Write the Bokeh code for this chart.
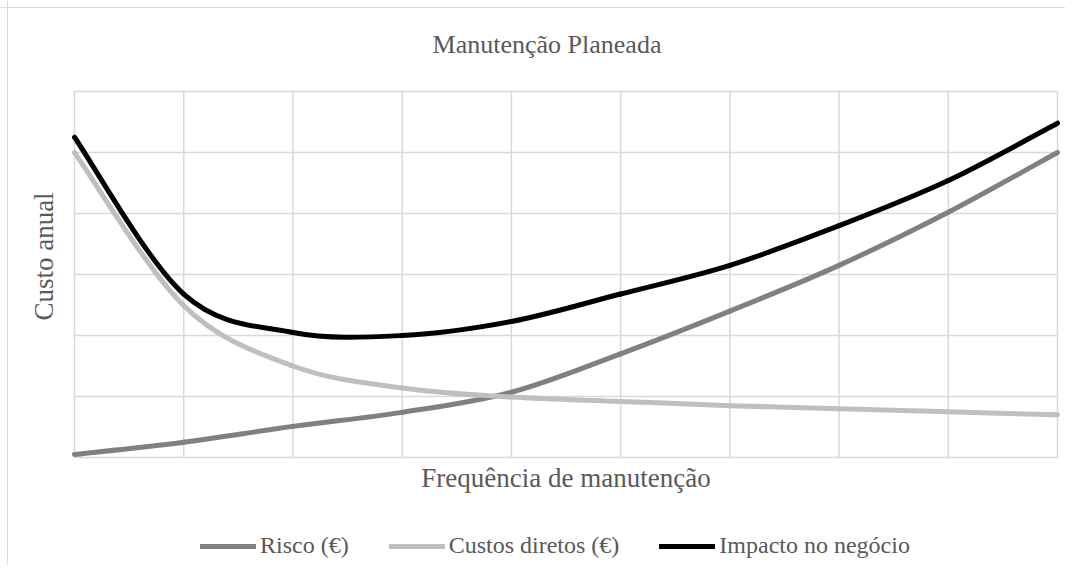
import math
from bokeh.plotting import figure
from bokeh.models import Range1d, Label, Legend, LegendItem, ColumnDataSource, Span
from bokeh.embed import file_html
from bokeh.resources import INLINE

# ---- data ----
x_vals = [0, 1, 2, 3, 4, 5, 6, 7, 8, 9]
y_ticks = [0, 1, 2, 3, 4, 5, 6]
risco = [0.05, 0.25, 0.51, 0.74, 1.07, 1.70, 2.40, 3.15, 4.02, 5.00]
custos = [5.00, 2.49, 1.50, 1.14, 0.99, 0.92, 0.85, 0.80, 0.75, 0.70]
impacto = [5.25, 2.68, 2.05, 2.00, 2.23, 2.68, 3.15, 3.80, 4.54, 5.48]
series_names = ["Risco (€)", "Custos diretos (€)", "Impacto no negócio"]
series_colors = ["#808080", "#bfbfbf", "#000000"]
title_text = "Manutenção Planeada"
x_label = "Frequência de manutenção"
y_label = "Custo anual"

FONT = "Liberation Serif"
TXT = "#595959"
GRID = "#d9d9d9"

# ---- layout (pixels) ----
W, H = 1065, 565
PL, PR, PT, PB = 74, 1057, 91, 457          # plot-area edges on the canvas
sx = (PR - PL) / (x_vals[-1] - x_vals[0])    # px per x unit
sy = (PB - PT) / (y_ticks[-1] - y_ticks[0])  # px per y unit
x0 = x_vals[0] - PL / sx
y0 = y_ticks[0] - (H - PB) / sy

p = figure(width=W, height=H, output_backend="svg", toolbar_location=None,
           x_range=Range1d(x0, x0 + W / sx), y_range=Range1d(y0, y0 + H / sy),
           min_border=0)
p.outline_line_color = None
p.xaxis.visible = False
p.yaxis.visible = False
p.xgrid.visible = False
p.ygrid.visible = False

# chart-area border (left / top edges)
p.add_layout(Span(location=x0 + 7 / sx, dimension="height", line_color=GRID, line_width=1))
p.add_layout(Span(location=y0 + (H - 7) / sy, dimension="width", line_color=GRID, line_width=1))

# gridlines at the category / value ticks
p.segment(x0=x_vals, x1=x_vals, y0=[y_ticks[0]] * len(x_vals), y1=[y_ticks[-1]] * len(x_vals),
          line_color=GRID, line_width=1.5)
p.segment(x0=[x_vals[0]] * len(y_ticks), x1=[x_vals[-1]] * len(y_ticks), y0=y_ticks, y1=y_ticks,
          line_color=GRID, line_width=1.5)


def smooth_segments(xs, ys):
    # Excel-style smoothed line: cubic Bezier segments through the data points
    n = len(xs)
    seg = dict(x0=[], y0=[], x1=[], y1=[], cx0=[], cy0=[], cx1=[], cy1=[])
    for i in range(n - 1):
        xm, ym = (xs[i - 1], ys[i - 1]) if i > 0 else (xs[i], ys[i])
        xp, yp = (xs[i + 2], ys[i + 2]) if i + 2 < n else (xs[i + 1], ys[i + 1])
        seg["x0"].append(xs[i]); seg["y0"].append(ys[i])
        seg["x1"].append(xs[i + 1]); seg["y1"].append(ys[i + 1])
        seg["cx0"].append(xs[i] + (xs[i + 1] - xm) / 6)
        seg["cy0"].append(ys[i] + (ys[i + 1] - ym) / 6)
        seg["cx1"].append(xs[i + 1] - (xp - xs[i]) / 6)
        seg["cy1"].append(ys[i + 1] - (yp - ys[i]) / 6)
    return ColumnDataSource(seg)


legend_items = []
for name, ys, col in zip(series_names, [risco, custos, impacto], series_colors):
    src = smooth_segments(x_vals, ys)
    r = p.bezier(x0="x0", y0="y0", x1="x1", y1="y1", cx0="cx0", cy0="cy0", cx1="cx1", cy1="cy1",
                 source=src, line_color=col, line_width=5, line_cap="round")
    legend_items.append(LegendItem(label=name, renderers=[r]))

legend = Legend(items=legend_items, location=(200, 6), orientation="horizontal",
                padding=0, margin=0, spacing=40, label_standoff=4,
                glyph_width=56, glyph_height=20,
                border_line_color=None, background_fill_alpha=0,
                label_text_font=FONT, label_text_font_size="24px", label_text_color=TXT)
p.add_layout(legend, "center")

p.add_layout(Label(x=546.5, y=H - 44, x_units="screen", y_units="screen", text=title_text,
                   text_align="center", text_baseline="alphabetic",
                   text_font=FONT, text_font_size="26px", text_color=TXT))
p.add_layout(Label(x=(PL + PR) / 2, y=H - 477, x_units="screen", y_units="screen", text=x_label,
                   text_align="center", text_baseline="alphabetic",
                   text_font=FONT, text_font_size="27px", text_color=TXT))
p.add_layout(Label(x=43, y=H - 256, x_units="screen", y_units="screen", text=y_label,
                   angle=math.pi / 2, text_align="center", text_baseline="middle",
                   text_font=FONT, text_font_size="27px", text_color=TXT))

open("out.html", "w").write(file_html(p, INLINE))
